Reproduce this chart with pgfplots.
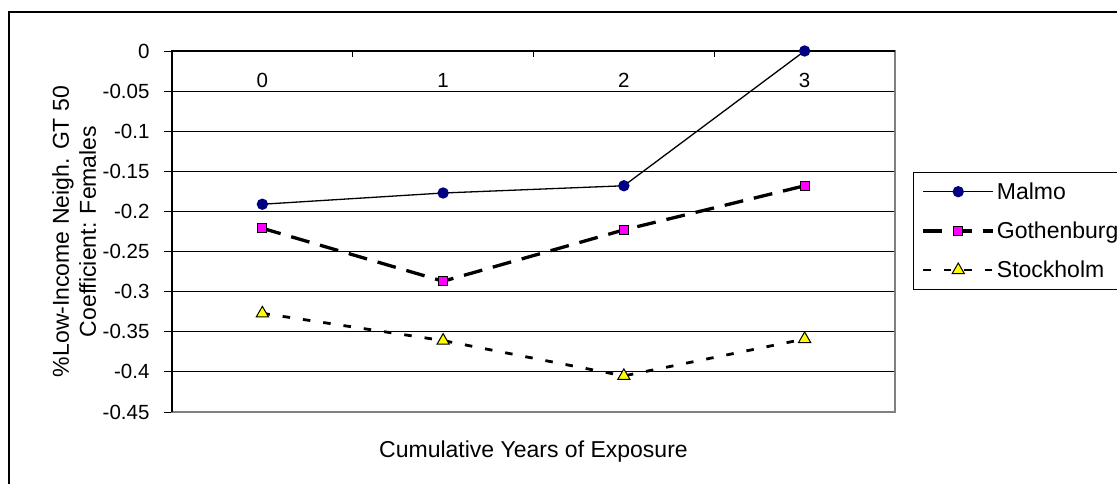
\documentclass[border=0pt]{standalone}
\usepackage{pgfplots}
\pgfplotsset{compat=1.18}
\usepackage{fontspec}
\setmainfont{Liberation Sans}
\definecolor{malmo}{RGB}{0,0,128}
\definecolor{goth}{RGB}{255,0,255}
\definecolor{stock}{RGB}{255,255,0}
\definecolor{frameGray}{RGB}{128,128,128}
\begin{document}
\begin{tikzpicture}
\useasboundingbox (0,0) rectangle (1117pt,-484pt);
\draw[line width=1.5pt] (9pt,-12pt) rectangle (1140pt,-500pt);
\begin{axis}[
  at={(172pt,-412pt)}, anchor=south west,
  scale only axis, width=723pt, height=361pt,
  xmin=-0.5, xmax=3.5, ymin=-0.45, ymax=0,
  clip=false,
  xtick={0,1,2,3}, xticklabels={0,1,2,3},
  xticklabel pos=upper, xtick style={draw=none},
  xticklabel style={anchor=center}, xticklabel shift=-37pt,
  ytick={-0.45,-0.4,-0.35,-0.3,-0.25,-0.2,-0.15,-0.1,-0.05,0},
  yticklabels={-0.45,-0.4,-0.35,-0.3,-0.25,-0.2,-0.15,-0.1,-0.05,0},
  ytick pos=left, tick align=outside, major tick length=8pt,
  ytick style={black, line width=1pt},
  yticklabel shift=11pt,
  ymajorgrids, grid style={black, line width=1pt},
  axis line style={draw=frameGray, line width=1.5pt},
  tick label style={font=\fontsize{20.5}{23}\selectfont},
  xlabel={Cumulative Years of Exposure},
  xlabel style={font=\fontsize{23}{26}\selectfont, at={(axis description cs:0.5,-0.1108)}, anchor=center},
  ylabel={\%Low-Income Neigh. GT 50\\[3pt]Coefficient:  Females},
  ylabel style={font=\fontsize{23}{24}\selectfont, align=center, at={(axis description cs:-0.1355,0.5)}, anchor=center},
  legend style={at={(axis description cs:1.0249,0.6648)}, anchor=north west,
    draw=black, line width=1.2pt, font=\fontsize{23}{26}\selectfont,
    inner xsep=8pt, inner ysep=8pt, row sep=17pt, nodes={inner sep=2pt},
    /tikz/every even column/.append style={column sep=5pt}},
  legend cell align=left,
  legend image code/.code={\draw[mark repeat=2,mark phase=2,#1] plot coordinates {(0pt,0pt) (35pt,0pt) (70pt,0pt)};},
]
\draw[black, line width=1.5pt] (rel axis cs:0,0) -- (rel axis cs:0,1) -- (rel axis cs:1,1);
\draw[black, line width=1pt] (axis cs:0.5,0) -- (axis cs:0.5,-0.0075);
\draw[black, line width=1pt] (axis cs:1.5,0) -- (axis cs:1.5,-0.0075);
\draw[black, line width=1pt] (axis cs:2.5,0) -- (axis cs:2.5,-0.0075);
\addplot[black, line width=1.3pt, mark=*, mark size=5pt, mark options={fill=malmo, draw=malmo, solid}]
  coordinates {(0,-0.191) (1,-0.177) (2,-0.168) (3,0)};
\addlegendentry{Malmo}
\addplot[black, line width=3.3pt, dash pattern=on 19pt off 11pt, mark=square*, mark size=4.5pt, mark options={fill=goth, draw=black, line width=1pt, solid}]
  coordinates {(0,-0.221) (1,-0.287) (2,-0.223) (3,-0.168)};
\addlegendentry{Gothenburg}
\addplot[black, line width=2.8pt, dash pattern=on 7.5pt off 13pt, mark=triangle*, mark size=7pt, mark options={fill=stock, draw=black, line width=1pt, solid}]
  coordinates {(0,-0.327) (1,-0.361) (2,-0.405) (3,-0.359)};
\addlegendentry{Stockholm}
\end{axis}
\end{tikzpicture}
\end{document}
